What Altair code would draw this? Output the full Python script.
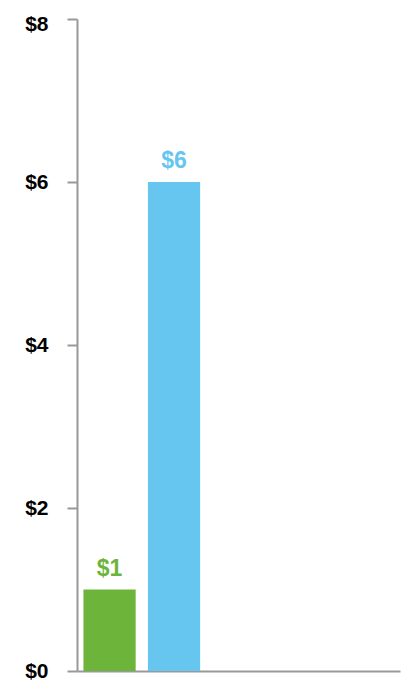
import altair as alt
import pandas as pd

categories = ["A", "B", "C", "D", "E"]
values = [1, 6, None, None, None]
colors = ["#6DB53A", "#67C6EF", "#999999", "#999999", "#999999"]

df = pd.DataFrame({"cat": categories, "value": values})
df = df.dropna()
df["label"] = df["value"].map(lambda v: f"${v:g}")

FONT = "Liberation Sans"

x = alt.X("cat:N", scale=alt.Scale(domain=categories, paddingInner=0.19, paddingOuter=0.1),
          axis=alt.Axis(title=None, labels=False, ticks=False, domain=True,
                        domainColor="#999999", domainWidth=2))
y = alt.Y("value:Q", scale=alt.Scale(domain=[0, 8], nice=False),
          axis=alt.Axis(title=None, values=[0, 2, 4, 6, 8], format="$d", grid=False,
                        domainColor="#999999", domainWidth=2, tickColor="#999999",
                        tickWidth=2, tickSize=10, labelPadding=19,
                        labelOffset=alt.expr("datum.value == 8 ? 5 : 0"),
                        labelFont=FONT, labelFontSize=21, labelFontWeight="bold",
                        labelColor="#000000"))
color = alt.Color("cat:N", scale=alt.Scale(domain=categories, range=colors), legend=None)

bars = alt.Chart(df).mark_bar().encode(x=x, y=y, color=color)
text = alt.Chart(df).mark_text(baseline="alphabetic", dy=-14, font=FONT, fontSize=23,
                               fontWeight="bold").encode(x=x, y=y, color=color, text="label:N")

chart = (bars + text).properties(
    width=323, height=652,
    autosize=alt.AutoSizeParams(type="none"),
    padding={"left": 69, "top": 11, "right": 10, "bottom": 10},
).configure_view(stroke=None)

chart.save("out.html", embed_options={"renderer": "svg", "actions": False})
